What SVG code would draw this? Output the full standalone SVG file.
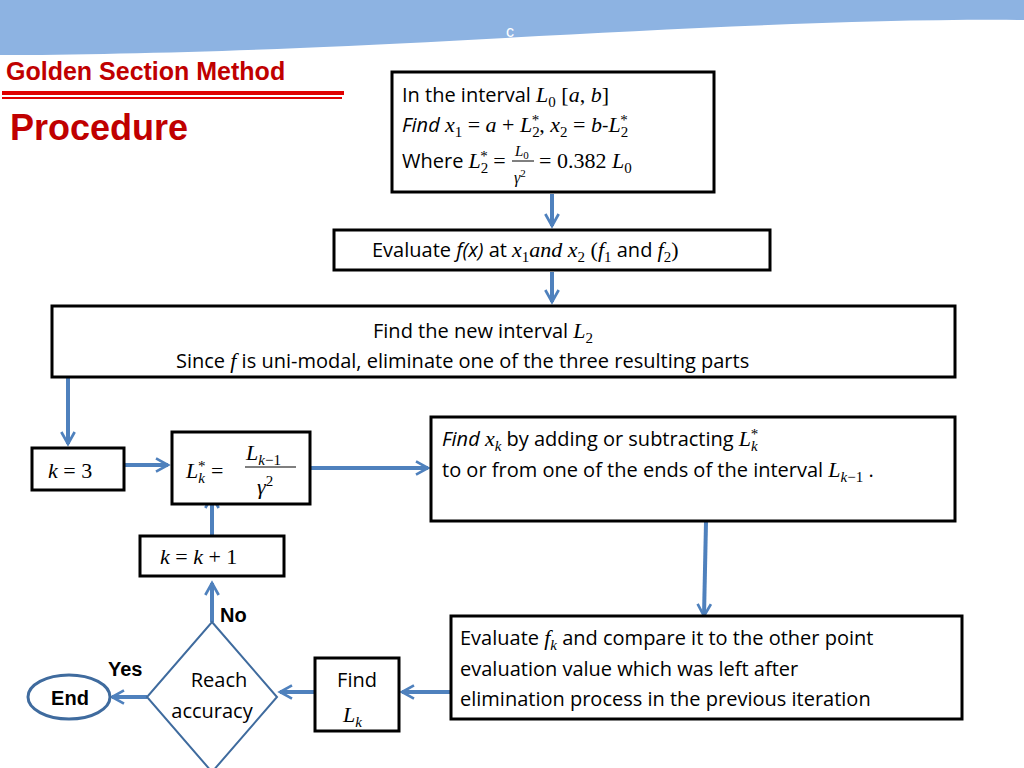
<svg xmlns="http://www.w3.org/2000/svg" width="1024" height="768" viewBox="0 0 1024 768">
<defs>
<marker id="ah" viewBox="0 0 12 12" refX="10" refY="6" markerWidth="4" markerHeight="4" orient="auto" markerUnits="strokeWidth"><path d="M1,1 L10,6 L1,11" fill="none" stroke="#4f81bd" stroke-width="2"/></marker>
</defs>
<style>
.box{fill:#fff;stroke:#000;stroke-width:3}
.t{font-family:"Open Sans","Liberation Sans",sans-serif;font-size:20px;fill:#000}
.m{font-family:"Liberation Serif",serif;font-style:italic;font-size:22px}
.n{font-family:"Liberation Serif",serif;font-style:normal;font-size:22px}
.c{stroke:#4f81bd;stroke-width:4;fill:none;marker-end:url(#ah)}
.s{font-size:15px}
</style>
<rect width="1024" height="768" fill="#fff"/>
<path d="M0,0 H1024 V20 C800,18 500,40 300,48 C200,52 80,55 0,55 Z" fill="#8db3e2"/>
<text x="510" y="37" font-family="Liberation Sans,sans-serif" font-size="16" fill="#fff" text-anchor="middle">c</text>
<text x="6" y="80" font-family="Liberation Sans,sans-serif" font-weight="bold" font-size="25" fill="#c00000">Golden Section Method</text>
<rect x="2" y="91" width="342" height="4" fill="#e00000"/>
<rect x="2" y="97" width="340" height="2" fill="#e00000"/>
<text x="10" y="140" font-family="Liberation Sans,sans-serif" font-weight="bold" font-size="36" fill="#c00000">Procedure</text>

<g id="connectors">
<line x1="552" y1="194" x2="552" y2="226" class="c"/>
<line x1="552" y1="272" x2="552" y2="302" class="c"/>
<line x1="68" y1="376" x2="68" y2="444" class="c"/>
<line x1="124" y1="465" x2="168" y2="465" class="c"/>
<line x1="310" y1="468" x2="428" y2="468" class="c"/>
<line x1="706" y1="522" x2="704" y2="616" class="c"/>
<line x1="212" y1="548" x2="212" y2="496" class="c"/>
<line x1="450" y1="692" x2="402" y2="692" class="c"/>
<line x1="314" y1="692" x2="280" y2="692" class="c"/>
<line x1="147" y1="697" x2="112" y2="697" class="c"/>
<line x1="212" y1="622" x2="212" y2="583" class="c"/>
</g>

<g id="n1"><rect class="box" x="392" y="72" width="322" height="120"/>
<text class="t" x="402" y="102">In the interval <tspan class="m">L</tspan><tspan class="n s" dy="5">0</tspan><tspan class="n" dy="-5"> [</tspan><tspan class="m">a</tspan><tspan class="n">, </tspan><tspan class="m">b</tspan><tspan class="n">]</tspan></text>
<text class="t" x="402" y="132"><tspan font-style="italic">Find </tspan><tspan class="m">x</tspan><tspan class="n s" dy="5">1</tspan><tspan class="n" dy="-5"> = </tspan><tspan class="m">a</tspan><tspan class="n"> + </tspan><tspan class="m">L</tspan><tspan class="n s" dy="5">2</tspan><tspan class="n s" dx="-8" dy="-12">*</tspan><tspan class="n" dy="7">, </tspan><tspan class="m">x</tspan><tspan class="n s" dy="5">2</tspan><tspan class="n" dy="-5"> = </tspan><tspan class="m">b</tspan>-<tspan class="m">L</tspan><tspan class="n s" dy="5">2</tspan><tspan class="n s" dx="-8" dy="-12">*</tspan></text>
<text class="t" x="402" y="168">Where <tspan class="m">L</tspan><tspan class="n s" dy="5">2</tspan><tspan class="n s" dx="-8" dy="-12">*</tspan><tspan class="n" dy="7"> = </tspan></text>
<text class="m" x="515" y="156" style="font-size:15px">L<tspan font-style="normal" font-size="11" dy="3">0</tspan></text>
<line x1="512" y1="161" x2="534" y2="161" stroke="#000" stroke-width="1"/>
<text class="m" x="514" y="183" style="font-size:16px">γ<tspan font-style="normal" font-size="11" dy="-6">2</tspan></text>
<text class="t" x="539" y="168"><tspan class="n">= 0.382 </tspan><tspan class="m">L</tspan><tspan class="n s" dy="5">0</tspan></text>
</g>

<g id="n2"><rect class="box" x="334" y="230" width="436" height="40"/>
<text class="t" x="372" y="257">Evaluate <tspan font-style="italic">f(x)</tspan> at <tspan class="m">x</tspan><tspan class="n s" dy="5">1</tspan><tspan class="m" dy="-5">and x</tspan><tspan class="n s" dy="5">2</tspan><tspan class="n" dy="-5"> (</tspan><tspan class="m">f</tspan><tspan class="n s" dy="5">1</tspan><tspan dy="-5"> and </tspan><tspan class="m">f</tspan><tspan class="n s" dy="5">2</tspan><tspan class="n" dy="-5">)</tspan></text>
</g>

<g id="n3"><rect class="box" x="52" y="306" width="903" height="71"/>
<text class="t" x="373" y="338">Find  the new interval <tspan class="m">L</tspan><tspan class="n s" dy="5">2</tspan></text>
<text class="t" x="176" y="368">Since  <tspan class="m">f</tspan> is uni-modal,  eliminate one of the three resulting parts</text>
</g>

<g id="n4"><rect class="box" x="32" y="448" width="92" height="42"/>
<text class="t" x="48" y="478"><tspan class="m">k</tspan><tspan class="n"> = 3</tspan></text></g>

<g id="n5"><rect class="box" x="172" y="432" width="138" height="72"/>
<text class="t" x="186" y="478"><tspan class="m">L</tspan><tspan class="m s" dy="5">k</tspan><tspan class="n s" dx="-7" dy="-12">*</tspan><tspan class="n" dy="7"> = </tspan></text>
<text class="m" x="246" y="460">L<tspan style="font-size:15px" dy="5">k</tspan><tspan font-style="normal" style="font-size:15px">−1</tspan></text>
<line x1="245" y1="467" x2="296" y2="467" stroke="#000" stroke-width="1.2"/>
<text class="m" x="257" y="494">γ<tspan font-style="normal" style="font-size:15px" dy="-8">2</tspan></text>
</g>

<g id="n6"><rect class="box" x="431" y="417" width="524" height="104"/>
<text class="t" x="442" y="446"><tspan font-style="italic">Find </tspan><tspan class="m">x</tspan><tspan class="m s" dy="5">k</tspan><tspan dy="-5">  by adding or subtracting </tspan><tspan class="m">L</tspan><tspan class="m s" dy="5">k</tspan><tspan class="n s" dx="-7" dy="-12">*</tspan></text>
<text class="t" x="442" y="477">to or from one of the  ends of the interval <tspan class="m">L</tspan><tspan class="m s" dy="5">k</tspan><tspan class="n s">−1</tspan><tspan dy="-5"> .</tspan></text>
</g>

<g id="n7"><rect class="box" x="140" y="536" width="144" height="40"/>
<text class="t" x="160" y="564"><tspan class="m">k</tspan><tspan class="n"> = </tspan><tspan class="m">k</tspan><tspan class="n"> + 1</tspan></text></g>

<g id="n8"><rect class="box" x="451" y="616" width="511" height="103"/>
<text class="t" x="460" y="645">Evaluate <tspan class="m">f</tspan><tspan class="m s" dy="5">k</tspan><tspan dy="-5"> and compare it to the other point</tspan></text>
<text class="t" x="460" y="676">evaluation value which was left after</text>
<text class="t" x="460" y="706">elimination process in the previous iteration</text>
</g>

<g id="n9"><rect class="box" x="315" y="658" width="84" height="73"/>
<text class="t" x="357" y="687" text-anchor="middle">Find</text>
<text class="t" x="343" y="722"><tspan class="m">L</tspan><tspan class="m s" dy="5">k</tspan></text></g>

<g id="n10"><polygon points="212,622 277,697 212,772 147,697" fill="#fff" stroke="#3f6b9e" stroke-width="2"/>
<text class="t" x="219" y="687" text-anchor="middle">Reach</text>
<text class="t" x="212" y="718" text-anchor="middle">accuracy</text>
<text x="220" y="622" font-family="Liberation Sans,sans-serif" font-weight="bold" font-size="20">No</text>
<text x="108" y="676" font-family="Liberation Sans,sans-serif" font-weight="bold" font-size="20">Yes</text>
</g>

<g id="n11"><ellipse cx="69" cy="697" rx="41" ry="22" fill="#fff" stroke="#3f6b9e" stroke-width="3"/>
<text x="70" y="705" font-family="Liberation Sans,sans-serif" font-weight="bold" font-size="20" text-anchor="middle">End</text></g>
</svg>
